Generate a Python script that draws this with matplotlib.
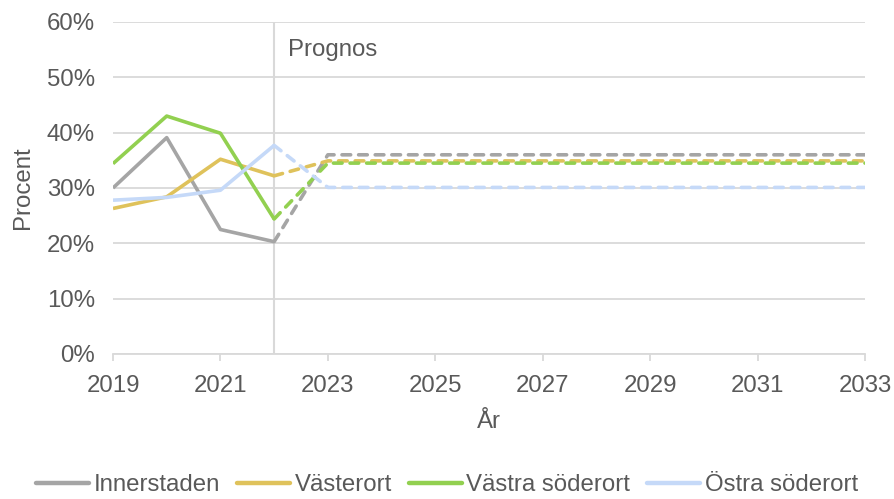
import matplotlib.pyplot as plt

plt.rcParams['font.family'] = ['Liberation Sans', 'DejaVu Sans']

years = [2019, 2020, 2021, 2022, 2023, 2024, 2025, 2026, 2027, 2028,
         2029, 2030, 2031, 2032, 2033]
split_year = 2022

innerstaden = [30.0, 39.1, 22.5, 20.3] + [36.0] * 11
vasterort = [26.3, 28.4, 35.2, 32.2] + [34.9] * 11
vastra_soderort = [34.4, 43.0, 39.9, 24.4] + [34.5] * 11
ostra_soderort = [27.8, 28.3, 29.6, 37.7] + [30.1] * 11

names = ['Innerstaden', 'Västerort', 'Västra söderort', 'Östra söderort']
series = [innerstaden, vasterort, vastra_soderort, ostra_soderort]
colors = ['#a5a5a5', '#dfc25b', '#92d050', '#c5d9f8']

text_color = '#595959'
grid_color = '#d9d9d9'
fs = 17.3

fig = plt.figure(figsize=(8.94, 4.99), dpi=100)
ax = fig.add_axes([113 / 894, 1 - 354 / 499, 752 / 894, 332 / 499])

k = years.index(split_year)
for name, vals, c in zip(names, series, colors):
    ax.plot(years[:k + 1], vals[:k + 1], color=c, lw=2.6, label=name,
            solid_capstyle='butt', zorder=3)
    ax.plot(years[k:], vals[k:], color=c, lw=2.6, ls=(0, (2.4, 2.2)),
            dash_capstyle='round', zorder=3)

ax.axvline(split_year, color=grid_color, lw=1.5, zorder=2)
ax.text(split_year + 0.25, 55.0, 'Prognos', color=text_color, fontsize=fs,
        va='center')

ax.set_xlim(2019, 2033)
ax.set_ylim(0, 60)
ax.set_xticks(range(2019, 2034, 2))
ax.set_yticks(range(0, 61, 10))
ax.set_yticklabels([f'{v}%' for v in range(0, 61, 10)])
ax.grid(axis='y', color=grid_color, lw=1.3, zorder=1)
ax.set_axisbelow(True)

for s in ['top', 'right', 'left']:
    ax.spines[s].set_visible(False)
ax.spines['bottom'].set_color(grid_color)
ax.spines['bottom'].set_linewidth(1.3)
ax.tick_params(axis='x', colors=text_color, labelsize=fs, length=5,
               width=1.3, color=grid_color, pad=10)
ax.tick_params(axis='y', colors=text_color, labelsize=fs, length=0, pad=13)

ax.set_xlabel('År', color=text_color, fontsize=fs, labelpad=10)
ax.set_ylabel('Procent', color=text_color, fontsize=fs, labelpad=9)

leg = fig.legend(loc='center', ncol=4, frameon=False, fontsize=fs,
                 handlelength=2.2, handletextpad=0.2, columnspacing=0.7,
                 labelcolor=text_color,
                 bbox_to_anchor=(0.5, 1 - 485 / 499))
for line in leg.get_lines():
    line.set_linewidth(3.2)
    line.set_solid_capstyle('round')

fig.savefig('out.png', dpi=100)
